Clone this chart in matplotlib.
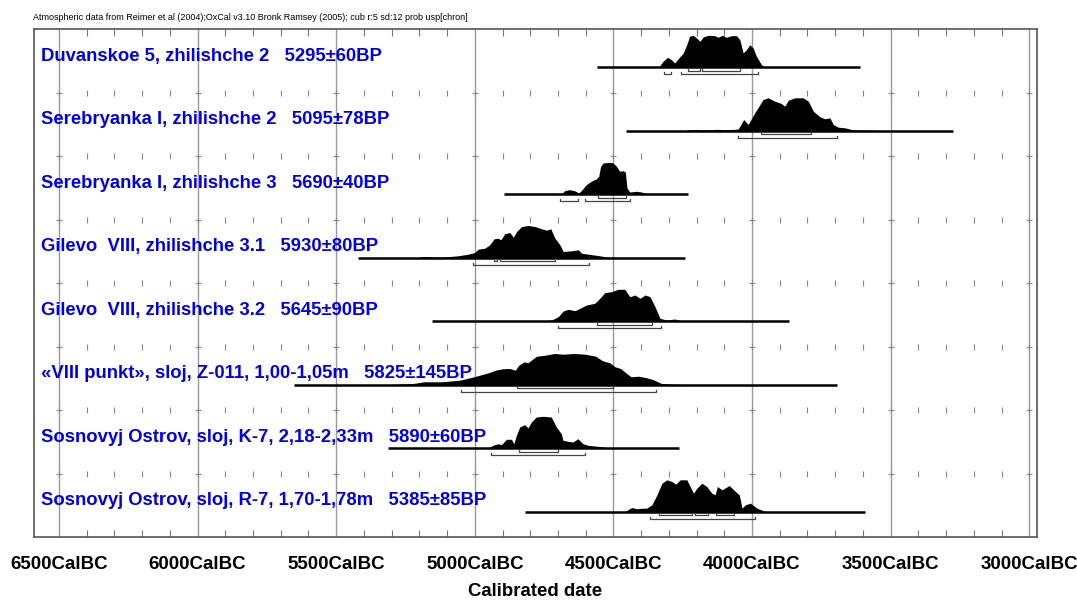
import matplotlib.pyplot as plt

# row labels (top to bottom)
labels = [
    'Duvanskoe 5, zhilishche 2   5295±60BP',
    'Serebryanka I, zhilishche 2   5095±78BP',
    'Serebryanka I, zhilishche 3   5690±40BP',
    'Gilevo  VIII, zhilishche 3.1   5930±80BP',
    'Gilevo  VIII, zhilishche 3.2   5645±90BP',
    '«VIII punkt», sloj, Z-011, 1,00-1,05m   5825±145BP',
    'Sosnovyj Ostrov, sloj, K-7, 2,18-2,33m   5890±60BP',
    'Sosnovyj Ostrov, sloj, R-7, 1,70-1,78m   5385±85BP',
]

# extent of the horizontal line under each distribution (CalBC)
line_ranges = [(4558, 3612), (4456, 3274), (4895, 4230), (5423, 4242),
               (5154, 3865), (5653, 3695), (5314, 4263), (4819, 3593)]

# probability distributions (year BC, relative height)
yr1 = [4336, 4321, 4305, 4291, 4279, 4264, 4248, 4236, 4225, 4212, 4200, 4188, 4176, 4158,
       4134, 4122, 4108, 4092, 4074, 4056, 4044, 4032, 4020, 4008, 3996, 3984, 3966, 3954]
pd1 = [0, 5.7, 9.7, 7.3, 4, 9, 14, 22, 30.7, 31.7, 29, 25.7, 30, 31.7,
       31.3, 29.7, 31.7, 29.7, 31.3, 31.3, 27.3, 14, 17.3, 22.3, 19, 10.7, 2.3, 0]

yr2 = [4240, 4225, 4200, 4175, 4150, 4125, 4100, 4070, 4050, 4040, 4030, 4014, 3990, 3960,
       3942, 3918, 3894, 3882, 3869, 3845, 3815, 3797, 3779, 3755, 3737, 3719, 3707, 3689,
       3665, 3641, 3617, 3590, 3560, 3540]
pd2 = [0, 0.7, 1, 0.5, 0.8, 1.2, 0.8, 1, 1.5, 6, 11, 6, 17.7, 31,
       32.7, 29.3, 27, 24.3, 30.3, 32.7, 32.7, 29.3, 19.3, 13.7, 11.7, 12.7, 6, 3.3,
       2.7, 1, 0.5, 0.3, 0.3, 0]

yr3 = [4688, 4676, 4658, 4640, 4625, 4616, 4598, 4580, 4561, 4553, 4546, 4537, 4513, 4501,
       4489, 4477, 4465, 4457, 4451, 4441, 4417, 4399, 4375]
pd3 = [0, 3.3, 4.3, 3.3, 1, 3.3, 9.3, 12.7, 15.3, 17.7, 27.7, 31, 31.7, 31,
       27.7, 22.7, 23.3, 22, 6, 2, 2.7, 2, 0]

yr4 = [5204, 5186, 5120, 5060, 5024, 5000, 4988, 4964, 4946, 4930, 4916, 4906, 4892, 4874,
       4861, 4849, 4831, 4807, 4783, 4759, 4741, 4726, 4711, 4693, 4681, 4651, 4627, 4615,
       4591, 4549, 4519, 4495]
pd4 = [0, 1, 0.3, 1.7, 3.3, 5, 8.3, 9.3, 12.7, 18.7, 19.3, 17.7, 23.7, 25,
       20.3, 26, 31, 32, 31, 28.7, 27.3, 28.7, 19.3, 12.7, 6, 6.7, 7.7, 4.3,
       3.3, 1.7, 0.3, 0]

yr5 = [4759, 4723, 4699, 4681, 4663, 4639, 4621, 4597, 4567, 4549, 4531, 4507, 4483, 4459,
       4441, 4422, 4404, 4386, 4368, 4350, 4332, 4308, 4278, 4254]
pd5 = [0, 1, 4.3, 10, 11.7, 10.3, 12.7, 16, 17.7, 22.7, 28.3, 29.3, 31.7, 31.7,
       24.3, 26, 22.7, 26, 24.3, 14.3, 2.7, 1, 2, 0]

yr6 = [5312, 5222, 5183, 5119, 5054, 5003, 4951, 4925, 4900, 4874, 4854, 4841, 4822, 4809,
       4796, 4777, 4745, 4713, 4680, 4642, 4603, 4564, 4539, 4513, 4494, 4474, 4455, 4436,
       4410, 4384, 4358, 4326, 4281, 4229]
pd6 = [0, 1, 2.7, 2.7, 4.3, 7.7, 11.7, 14.3, 15.7, 16, 14.3, 19.3, 22.7, 21.7,
       24.3, 28.3, 29.3, 31, 30.3, 31, 30.3, 28.3, 23.7, 21.7, 17.7, 16, 11.7, 7.7,
       8.3, 7, 5, 1, 0.3, 0]

yr7 = [4952, 4934, 4916, 4904, 4886, 4868, 4859, 4850, 4838, 4820, 4808, 4796, 4778, 4754,
       4724, 4706, 4688, 4682, 4664, 4646, 4628, 4610, 4592, 4556, 4520, 4496]
pd7 = [0, 2.7, 4.3, 3.3, 8.7, 8.7, 4.3, 12.7, 21, 23.3, 20, 26, 31, 31.7,
       31, 21, 14.3, 7.7, 6.7, 6, 9.3, 4.3, 2.7, 1.7, 0.3, 0]

yr8 = [4458, 4434, 4416, 4398, 4380, 4361, 4343, 4325, 4307, 4289, 4275, 4259, 4235, 4223,
       4211, 4199, 4181, 4163, 4145, 4133, 4125, 4108, 4082, 4060, 4046, 4036, 4024, 4006,
       3982, 3952]
pd8 = [0, 4, 2.7, 3.3, 3.3, 6.7, 16.7, 28.3, 31.7, 30, 27.3, 31.7, 31.7, 25,
       18.3, 23.3, 28.3, 25, 18.3, 16.7, 25, 21.7, 26, 20, 16.7, 3.3, 6.7, 8.3,
       3.3, 0]

years = [yr1, yr2, yr3, yr4, yr5, yr6, yr7, yr8]
probs = [pd1, pd2, pd3, pd4, pd5, pd6, pd7, pd8]

# 68.2% and 95.4% ranges
r68 = [[(4230, 4188), (4181, 4042)], [(3969, 3787)], [(4555, 4453)],
       [(4930, 4921), (4910, 4709)], [(4560, 4359)], [(4848, 4500)],
       [(4841, 4700)], [(4337, 4217), (4207, 4157), (4129, 4066)]]
r95 = [[(4318, 4291), (4255, 3980)], [(4050, 3694)], [(4691, 4628), (4603, 4439)],
       [(5008, 4589)], [(4699, 4328)], [(5048, 4348)], [(4940, 4601)], [(4367, 3988)]]

major = list(range(6500, 2999, -500))
minor = list(range(6500, 2999, -100))

plt.rcParams['font.family'] = ['Liberation Sans', 'DejaVu Sans']

fig = plt.figure(figsize=(10.77, 6.01), dpi=100)
ax = fig.add_axes([34 / 1077, 1 - 537 / 601, 1003 / 1077, 508 / 601])

nrows = len(labels)
ax.set_xlim(6590, 2972)
ax.set_ylim(0, nrows)

# vertical grid every 500 years
for x in major:
    ax.axvline(x, color='#999999', lw=1, zorder=0)

# small ticks on the row separators
for k in range(1, nrows):
    ax.plot(minor, [k] * len(minor), ls='none', marker='|', ms=5, mew=0.8, color='#888888', zorder=1)
    ax.plot(major, [k] * len(major), ls='none', marker='_', ms=5, mew=0.8, color='#888888', zorder=1)

px = 1 / 63.5  # one pixel in row units
for i in range(nrows):
    top = nrows - i
    base = top - 38 * px
    h = [p * px for p in probs[i]]
    ax.fill_between(years[i], base, [base + v for v in h], color='black', lw=0, zorder=3)
    ax.plot(line_ranges[i], [base, base], color='black', lw=1.8, zorder=3, solid_capstyle='butt')
    for rng, off in ((r68[i], 3.5), (r95[i], 7.2)):
        yb = base - off * px
        for a, b in rng:
            ax.plot([a, a, b, b], [yb + 2 * px, yb, yb, yb + 2 * px], color='#444444', lw=0.9, zorder=3)
    ax.text(0.007, top - 27 * px, labels[i], transform=ax.get_yaxis_transform(),
            color='#0000ee', fontsize=13.3, fontweight='bold', va='center', ha='left', zorder=5)

ax.set_yticks([])
ax.set_xticks(major)
ax.set_xticklabels([f'{y}CalBC' for y in major], fontsize=13.5, fontweight='bold')
ax.set_xticks(minor, minor=True)
ax.tick_params(axis='x', which='both', direction='in', top=True, bottom=True,
               color='#777777', width=0.8)
ax.tick_params(axis='x', which='major', length=0, pad=14)
ax.tick_params(axis='x', which='minor', length=5)
ax.set_xlabel('Calibrated date', fontsize=13.4, fontweight='bold', labelpad=7)

for s in ax.spines.values():
    s.set_color('#555555')
    s.set_linewidth(1.2)

fig.text(33 / 1077, 1 - 17 / 601,
         'Atmospheric data from Reimer et al (2004);OxCal v3.10 Bronk Ramsey (2005); cub r:5 sd:12 prob usp[chron]',
         fontsize=6.5, va='center', ha='left')

fig.savefig('out.png', dpi=100)
